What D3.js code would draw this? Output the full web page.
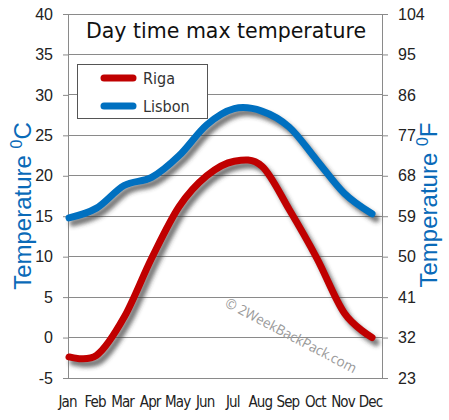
<!DOCTYPE html>
<html><head><meta charset="utf-8">
<script src="https://cdn.jsdelivr.net/npm/d3@7"></script>
<style>body{margin:0;background:#fff}svg{display:block}</style>
</head><body>
<script>
const months = ["Jan","Feb","Mar","Apr","May","Jun","Jul","Aug","Sep","Oct","Nov","Dec"];
const riga   = [-2.4, -2.2, 2.5, 9.8, 16.2, 20.0, 21.8, 21.2, 15.8, 9.8, 3.0, 0.0];
const lisbon = [14.8, 16.0, 18.8, 19.8, 22.5, 26.3, 28.3, 28.0, 26.0, 21.9, 17.8, 15.3];
const cTicks = [-5, 0, 5, 10, 15, 20, 25, 30, 35, 40];
const fTicks = [23, 32, 41, 50, 59, 68, 77, 86, 95, 104];
const seriesNames = ["Riga", "Lisbon"];
const seriesColors = ["#c00000", "#0070c0"];

const W = 449, H = 420;
const L = 69, R = 382, T = 14, B = 378;
const svg = d3.select("body").append("svg").attr("width", W).attr("height", H);
const defs = svg.append("defs");
const f = defs.append("filter").attr("id","sh").attr("x","-10%").attr("y","-10%").attr("width","130%").attr("height","130%");
f.append("feGaussianBlur").attr("stdDeviation", 2.2);

const x = d3.scalePoint().domain(months).range([L, 372]);
const y = d3.scaleLinear().domain([-5, 40]).range([B, T]);
const yF = d3.scaleLinear().domain([23, 104]).range([B, T]);

const numFont = "'Liberation Sans', Arial, sans-serif";
const narrowFont = "'DejaVu Sans Condensed', 'Liberation Sans Narrow', Arial, sans-serif";

// gridlines
svg.append("g").selectAll("line").data(cTicks).join("line")
  .attr("x1", L).attr("x2", R).attr("y1", d => y(d)).attr("y2", d => y(d))
  .attr("stroke", "#8a8a8a").attr("stroke-width", 1).attr("shape-rendering","crispEdges");

// left axis
const gl = svg.append("g").attr("transform", `translate(${L},0)`)
  .call(d3.axisLeft(y).tickValues(cTicks).tickSize(6).tickPadding(10).tickFormat(d => String(d)));
gl.select(".domain").attr("stroke","#8a8a8a").attr("d", `M-0.5,${T}V${B}`);
gl.selectAll(".tick line").attr("stroke","#8a8a8a");
gl.selectAll("text").attr("font-family", numFont).attr("font-size", 16).attr("fill","#222");

// right axis
const gr = svg.append("g").attr("transform", `translate(${R},0)`)
  .call(d3.axisRight(yF).tickValues(fTicks).tickSize(6).tickPadding(10).tickFormat(d => String(d)));
gr.select(".domain").attr("stroke","#8a8a8a").attr("d", `M0.5,${T}V${B}`);
gr.selectAll(".tick line").attr("stroke","#8a8a8a");
gr.selectAll("text").attr("font-family", numFont).attr("font-size", 16).attr("fill","#222");

// bottom labels
const gb = svg.append("g").attr("transform", `translate(0,${B})`)
  .call(d3.axisBottom(x).tickSize(0).tickPadding(18));
gb.select(".domain").remove();
gb.selectAll("text").attr("font-family", narrowFont).attr("font-size", 15).attr("fill","#222")
  .attr("letter-spacing", -0.9).attr("dx", -2);

// title
svg.append("text").attr("x", 226).attr("y", 38).attr("text-anchor","middle")
  .attr("font-family", "'DejaVu Sans', sans-serif").attr("font-size", 22).attr("fill","#111")
  .attr("textLength", 280).attr("lengthAdjust","spacingAndGlyphs")
  .text("Day time max temperature");

// watermark
svg.append("text").attr("transform", "translate(224,306) rotate(27.5)")
  .attr("font-family", "'Open Sans', sans-serif").attr("font-size", 14).attr("fill","#9a9a9a")
  .attr("textLength", 146).attr("lengthAdjust","spacingAndGlyphs")
  .text("© 2WeekBackPack.com");

// lines
const line = d3.line().x((d,i) => x(months[i])).y(d => y(d)).curve(d3.curveCatmullRom.alpha(0));
const data = [riga, lisbon];
const gs = svg.append("g");
data.forEach((s, k) => {
  gs.append("path").attr("d", line(s)).attr("transform","translate(4,5)")
    .attr("fill","none").attr("stroke","#3a3a3a").attr("stroke-opacity",0.7).attr("stroke-width",7)
    .attr("stroke-linecap","round").attr("filter","url(#sh)");
});
data.forEach((s, k) => {
  gs.append("path").attr("d", line(s)).attr("fill","none").attr("stroke", seriesColors[k])
    .attr("stroke-width",7).attr("stroke-linecap","round").attr("stroke-linejoin","round");
});

// legend
const lg = svg.append("g");
lg.append("rect").attr("x", 77.5).attr("y", 64.5).attr("width", 130).attr("height", 54)
  .attr("fill","#fff").attr("stroke","#555").attr("stroke-width",1);
seriesNames.forEach((n, k) => {
  const yy = 78 + k * 28;
  lg.append("line").attr("x1", 104).attr("x2", 133).attr("y1", yy).attr("y2", yy)
    .attr("stroke", seriesColors[k]).attr("stroke-width", 7).attr("stroke-linecap","round");
  lg.append("text").attr("x", 143).attr("y", yy + 6).attr("font-family", narrowFont)
    .attr("font-size", 16).attr("fill","#333").text(n);
});

// axis titles
function axisTitle(cx, cy, unit) {
  const t = svg.append("text").attr("transform", `translate(${cx},${cy}) rotate(-90)`)
    .attr("text-anchor","middle").attr("font-family", numFont).attr("fill","#0a6ab8").attr("font-size", 24);
  t.append("tspan").text("Temperature ");
  t.append("tspan").attr("font-size", 16).attr("dy", -9).text("0");
  t.append("tspan").attr("dy", 9).text(unit);
}
axisTitle(31, 206, "C");
axisTitle(437, 205, "F");
</script>
</body></html>
